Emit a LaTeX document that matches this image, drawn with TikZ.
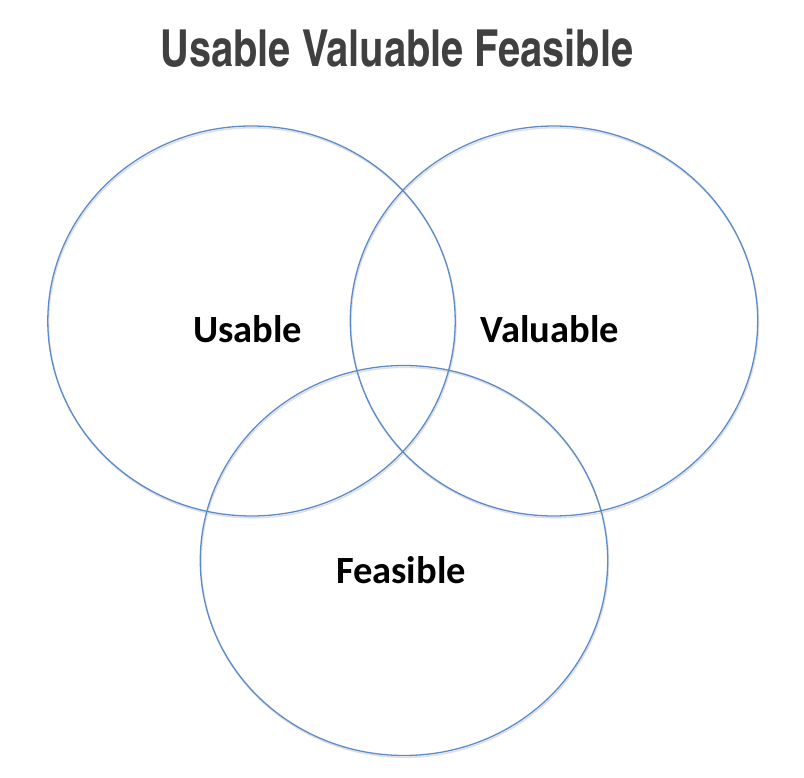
\documentclass[tikz,border=0pt]{standalone}
\usepackage{fontspec}
\setmainfont{Carlito}
\newfontfamily\titlefont{TeX Gyre Heros Cn}
\definecolor{ringblue}{HTML}{5B8BCB}
\definecolor{titlegray}{HTML}{404040}
\begin{document}
\begin{tikzpicture}[x=1pt,y=-1pt,
  ring/.style={draw=ringblue,line width=1.3pt},
  ringshadow/.style={draw=black!12,line width=1.5pt},
  lbl/.style={anchor=base,inner sep=0pt,font=\fontsize{38.5}{40}\selectfont\bfseries},
  ttl/.style={anchor=base,inner sep=0pt,text=titlegray,font=\fontsize{51}{53}\selectfont\titlefont\bfseries}]
\useasboundingbox (0,0) rectangle (804,778);
\foreach \cx/\cy in {251.5/321, 554/321, 404/560.5}{
  \draw[ringshadow] (\cx+0.8,\cy+1.8) ellipse [x radius=203.7, y radius=195];
}
\draw[ring] (251.5,321) ellipse [x radius=203.7, y radius=195];
\draw[ring] (554,321) ellipse [x radius=203.7, y radius=195];
\draw[ring] (404,560.5) ellipse [x radius=203.7, y radius=195];
\node[ttl] (title) at (397,67) {\scalebox{0.95}[1]{Usable Valuable Feasible}};
\node[lbl] (usable) at (247.5,342) {Usable};
\node[lbl] (valuable) at (550,342) {Valuable};
\node[lbl] (feasible) at (401,583) {Feasible};
\end{tikzpicture}
\end{document}
